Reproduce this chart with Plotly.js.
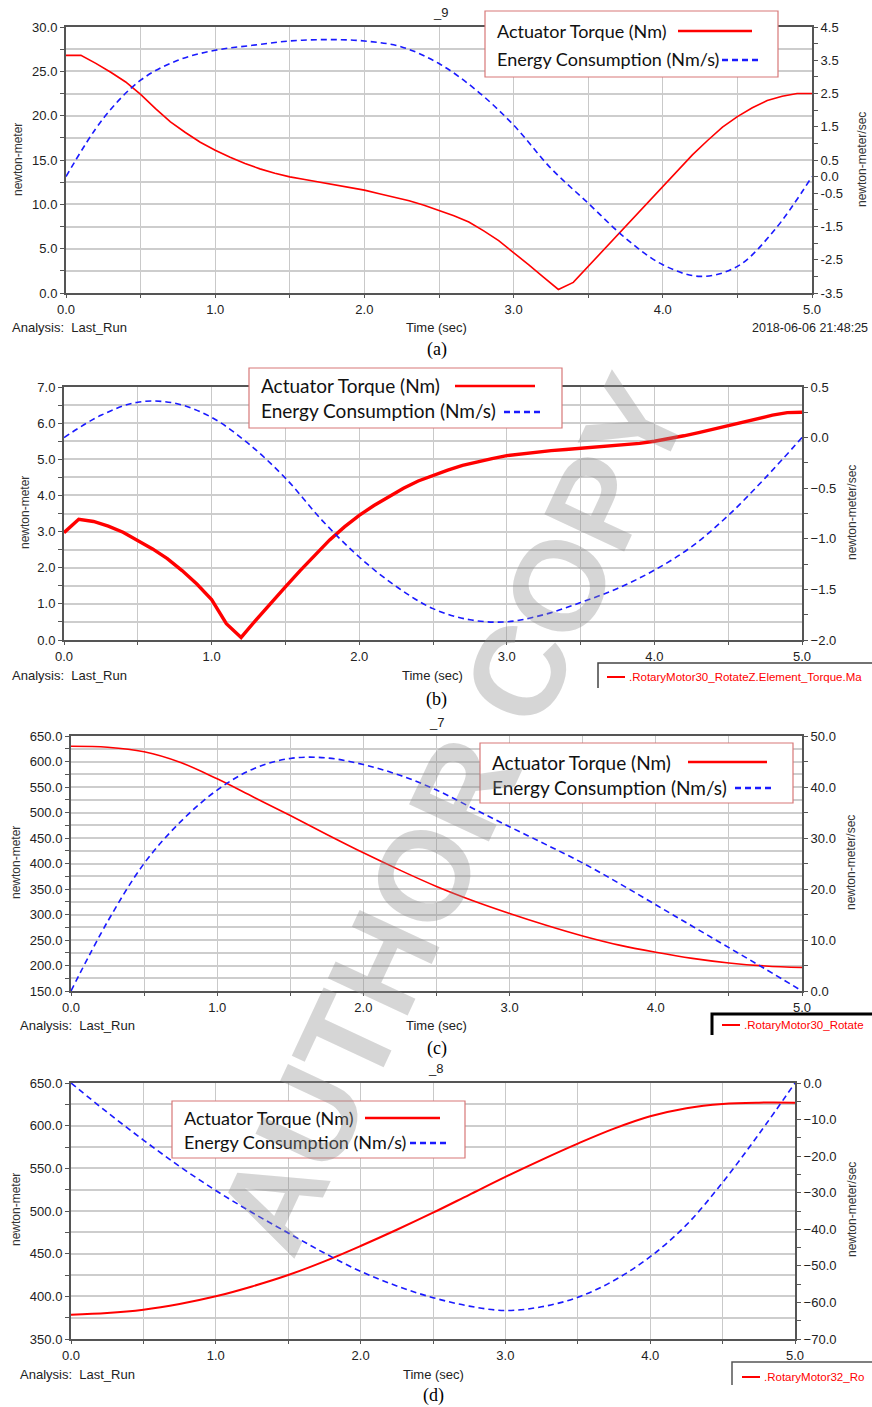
<!DOCTYPE html>
<html>
<head>
<meta charset="utf-8">
<script src="https://cdn.plot.ly/plotly-3.0.1.min.js"></script>
<style>html,body{margin:0;padding:0;background:#fff;}#chart{width:872px;height:1407px;}</style>
</head>
<body>
<div id="chart"></div>
<script>
// ---------- DATA ----------
const timeFine = [0,0.1,0.2,0.3,0.4,0.5,0.6,0.7,0.8,0.9,1.0,1.1,1.2,1.3,1.4,1.5,1.6,1.7,1.8,1.9,2.0,2.1,2.2,2.3,2.4,2.5,2.6,2.7,2.8,2.9,3.0,3.1,3.2,3.3,3.4,3.5,3.6,3.7,3.8,3.9,4.0,4.1,4.2,4.3,4.4,4.5,4.6,4.7,4.8,4.9,5.0];
const timeQ = [0,0.25,0.5,0.75,1.0,1.25,1.5,1.75,2.0,2.25,2.5,2.75,3.0,3.25,3.5,3.75,4.0,4.25,4.5,4.75,5.0];

const torqueA = [26.8,26.8,25.9,24.9,23.8,22.4,20.8,19.3,18.1,17.0,16.1,15.3,14.6,14.0,13.5,13.1,12.8,12.5,12.2,11.9,11.6,11.2,10.8,10.4,9.9,9.3,8.7,8.0,7.0,5.9,4.6,3.2,1.8,0.4,1.2,3.0,4.8,6.6,8.4,10.3,12.1,13.9,15.6,17.2,18.7,19.9,20.9,21.7,22.2,22.5,22.5];
const energyA = [0.0,1.75,2.9,3.5,3.8,3.95,4.08,4.12,4.08,3.9,3.4,2.6,1.55,0.25,-0.8,-1.85,-2.65,-3.0,-2.7,-1.6,0.0];

const torqueB = [2.97,3.34,3.28,3.15,2.98,2.76,2.52,2.25,1.92,1.55,1.12,0.45,0.07,0.55,1.02,1.47,1.92,2.36,2.77,3.13,3.45,3.72,3.97,4.2,4.4,4.56,4.7,4.83,4.93,5.02,5.1,5.15,5.2,5.24,5.27,5.3,5.33,5.36,5.4,5.44,5.5,5.57,5.65,5.74,5.84,5.94,6.04,6.13,6.22,6.29,6.3];
const energyB = [0.0,0.22,0.35,0.34,0.2,-0.06,-0.4,-0.82,-1.18,-1.47,-1.69,-1.8,-1.82,-1.75,-1.63,-1.49,-1.31,-1.08,-0.77,-0.4,0.0];

const torqueC = [630,628,619,598,566,530,494,457,421,387,355,327,302,279,258,240,226,214,205,199,196];
const energyC = [0,13.6,25.0,33.2,39.4,43.6,45.6,45.7,44.4,42.3,39.4,35.8,32.2,28.7,25.1,21.1,16.9,12.7,8.5,4.3,0];

const torqueD = [378.5,380.4,384.3,391,400,411.6,425,441,459,478,498,519,540,560,579,596.5,611,620.5,625.5,627,627];
const energyD = [0,-8.0,-15.6,-22.8,-29.4,-35.4,-41.0,-46.5,-51.5,-55.5,-58.7,-61.0,-62.2,-61.2,-58.6,-54.0,-47.5,-38.8,-27.2,-14.0,0];

const panelTitles = ["_9", "", "_7", "_8"];
const captions = ["(a)", "(b)", "(c)", "(d)"];
const legendNames = ["Actuator Torque (Nm)", "Energy Consumption (Nm/s)"];
const curveLabels = [".RotaryMotor30_RotateZ.Element_Torque.Ma", ".RotaryMotor30_Rotate", ".RotaryMotor32_Ro"];
const runStamp = "2018-06-06 21:48:25";
const rightTicksA = [4.5,4.0,3.5,3.0,2.5,2.0,1.5,1.0,0.5,0.0,-0.5,-1.0,-1.5,-2.0,-2.5,-3.0,-3.5];
const rightTickTextA = ["4.5","","3.5","","2.5","","1.5","","0.5","0.0","-0.5","","-1.5","","-2.5","","-3.5"];

// ---------- LAYOUT HELPERS ----------
const W = 872, H = 1407;
const px = v => v / W;
const py = v => 1 - v / H;

const geo = [
  {l:66, r:812, t:27,   b:293,  lr:[0,30],    ld:5,   lm:2.5,  rr:[-3.5,4.5], rd:0.5, rm:0.5,  tw:1.6, shape:"linear"},
  {l:64, r:802, t:387,  b:640,  lr:[0,7],     ld:1,   lm:0.5,  rr:[-2,0.5],   rd:0.5, rm:0.25, tw:3.4, shape:"linear"},
  {l:71, r:802, t:736,  b:991,  lr:[150,650], ld:50,  lm:25,   rr:[0,50],     rd:10,  rm:5,    tw:1.6, shape:"spline"},
  {l:71, r:795, t:1083, b:1339, lr:[350,650], ld:50,  lm:25,   rr:[-70,0],    rd:10,  rm:5,    tw:2.0, shape:"spline"}
];

const tickFont = {family:"Liberation Sans, Arial, sans-serif", size:13, color:"#222"};
const torques = [torqueA, torqueB, torqueC, torqueD];
const torqueX = [timeFine, timeFine, timeQ, timeQ];
const energies = [energyA, energyB, energyC, energyD];

const traces = [];
const layout = {
  width: W, height: H,
  margin: {l:0, r:0, t:0, b:0},
  paper_bgcolor: "#fff", plot_bgcolor: "#fff",
  showlegend: false,
  font: tickFont,
  annotations: [], shapes: []
};

geo.forEach((g, i) => {
  const n = i + 1;
  const xa = n === 1 ? "x" : "x" + n;
  const ya = n === 1 ? "y" : "y" + n;
  const yr = "y" + (n + 4);
  const xk = n === 1 ? "xaxis" : "xaxis" + n;
  const yk = n === 1 ? "yaxis" : "yaxis" + n;
  const yrk = "yaxis" + (n + 4);

  layout[xk] = {
    domain: [px(g.l), px(g.r)], anchor: ya, range: [0, 5],
    dtick: 1, tick0: 0, tickformat: ".1f",
    showline: true, mirror: true, linecolor: "#555", linewidth: 2,
    showgrid: true, gridcolor: "#c9c9c9", gridwidth: 1,
    ticks: "outside", ticklen: 3, tickcolor: "#555",
    minor: {dtick: 0.5, showgrid: true, gridcolor: "#c9c9c9", gridwidth: 1, ticks: "outside", ticklen: 3, tickcolor: "#555"},
    zeroline: false, tickfont: tickFont, fixedrange: true
  };
  layout[yk] = {
    domain: [py(g.b), py(g.t)], anchor: xa, range: g.lr,
    dtick: g.ld, tick0: 0, tickformat: ".1f",
    showline: true, linecolor: "#555", linewidth: 2,
    showgrid: true, gridcolor: "#cdcdcd", gridwidth: 2,
    ticks: "outside", ticklen: 4, tickcolor: "#555",
    minor: {dtick: g.lm, showgrid: true, gridcolor: "#cdcdcd", gridwidth: 2, ticks: "outside", ticklen: 4, tickcolor: "#555"},
    zeroline: false, tickfont: tickFont, fixedrange: true
  };
  const right = {
    overlaying: ya, anchor: xa, side: "right", range: g.rr,
    showline: true, linecolor: "#555", linewidth: 2,
    showgrid: false, zeroline: false,
    ticks: "outside", ticklen: 4, tickcolor: "#555",
    tickfont: tickFont, fixedrange: true
  };
  if (i === 0) {
    right.tickmode = "array"; right.tickvals = rightTicksA; right.ticktext = rightTickTextA;
  } else {
    right.dtick = g.rd; right.tick0 = 0; right.tickformat = ".1f";
    right.minor = {dtick: g.rm, ticks: "outside", ticklen: 4, tickcolor: "#555"};
  }
  layout[yrk] = right;

  const tl = {color: "#ff0000", width: g.tw, shape: g.shape};
  if (g.shape === "spline") tl.smoothing = 1;
  traces.push({
    type: "scatter", mode: "lines", x: torqueX[i], y: torques[i],
    xaxis: xa, yaxis: ya, name: legendNames[0], line: tl
  });
  traces.push({
    type: "scatter", mode: "lines", x: timeQ, y: energies[i],
    xaxis: xa, yaxis: yr, name: legendNames[1],
    line: {color: "#1a1aff", width: 1.6, dash: "6px,4px", shape: "spline", smoothing: 1}
  });
});

const ann = layout.annotations, shp = layout.shapes;
function txt(x, y, text, opts) {
  ann.push(Object.assign({
    xref: "paper", yref: "paper", x: px(x), y: py(y), text: text,
    showarrow: false, xanchor: "center", yanchor: "middle",
    font: {family: "Liberation Sans, Arial, sans-serif", size: 13, color: "#222"}
  }, opts || {}));
}
function line(x0, y0, x1, y1, color, width, dash) {
  shp.push({type: "line", xref: "paper", yref: "paper", x0: px(x0), y0: py(y0), x1: px(x1), y1: py(y1),
    line: {color: color, width: width, dash: dash || "solid"}, layer: "above"});
}

// panel titles
const titlePos = [[440,13],[437,366],[437,722],[435,1068]];
panelTitles.forEach((t, i) => { if (t) txt(titlePos[i][0], titlePos[i][1], t); });

// axis titles
const axTitleY = [[18,160,862,160],[25,513,852,513],[16,863,851,863],[16,1210,852,1210]];
axTitleY.forEach(a => {
  txt(a[0], a[1], "newton-meter", {textangle: -90, font:{family:"Liberation Sans, Arial, sans-serif", size:12, color:"#333"}});
  txt(a[2], a[3], "newton-meter/sec", {textangle: -90, font:{family:"Liberation Sans, Arial, sans-serif", size:12, color:"#333"}});
});

// bottom texts
const bottomY = [328, 675, 1025, 1374];
const analysisX = [10, 10, 18, 18];
const timeX = [437, 432, 437, 433];
bottomY.forEach((y, i) => {
  txt(analysisX[i], y, "Analysis:&nbsp;&nbsp;Last_Run", {xanchor: "left"});
  txt(timeX[i], y, "Time (sec)");
});
txt(870, 328, runStamp, {xanchor: "right", font:{family:"Liberation Sans, Arial, sans-serif", size:12.5, color:"#222"}});

// captions
const capPos = [[437,350],[437,700],[437,1048],[433,1395]];
captions.forEach((c, i) => txt(capPos[i][0], capPos[i][1], c, {font:{family:"Liberation Serif, Times New Roman, serif", size:18, color:"#000"}}));

// curve-name boxes at lower right
const redFont = {family:"Liberation Sans, Arial, sans-serif", size:11.5, color:"#ff0000"};
shp.push({type:"path", xref:"paper", yref:"paper", path:`M${px(598)},${py(688)} L${px(598)},${py(663)} L${px(872)},${py(663)}`, line:{color:"#444", width:1.5}, layer:"above"});
line(607, 677, 625, 677, "#ff0000", 2);
txt(627, 677, curveLabels[0], {xanchor:"left", font:redFont});
shp.push({type:"path", xref:"paper", yref:"paper", path:`M${px(712)},${py(1035)} L${px(712)},${py(1014)} L${px(872)},${py(1014)}`, line:{color:"#000", width:3}, layer:"above"});
line(722, 1025, 740, 1025, "#ff0000", 2);
txt(742, 1025, curveLabels[1], {xanchor:"left", font:redFont});
shp.push({type:"path", xref:"paper", yref:"paper", path:`M${px(732)},${py(1385)} L${px(732)},${py(1362)} L${px(872)},${py(1362)}`, line:{color:"#555", width:1.5}, layer:"above"});
line(742, 1377, 760, 1377, "#ff0000", 2);
txt(762, 1377, curveLabels[2], {xanchor:"left", font:redFont});

// legends (text left, sample right)
const legends = [
  {x0:485, y0:11,   x1:778, y1:77,   tx:495, l1:31,   l2:59,   r:[678,752], b:[722,760], fs:18},
  {x0:249, y0:368,  x1:562, y1:428,  tx:259, l1:386,  l2:411,  r:[455,535], b:[504,542], fs:19},
  {x0:480, y0:743,  x1:793, y1:803,  tx:490, l1:762,  l2:787,  r:[688,767], b:[735,773], fs:19},
  {x0:172, y0:1101, x1:465, y1:1158, tx:182, l1:1118, l2:1142, r:[365,440], b:[410,447], fs:18}
];
legends.forEach(L => {
  shp.push({type:"rect", xref:"paper", yref:"paper", x0:px(L.x0), x1:px(L.x1), y0:py(L.y1), y1:py(L.y0),
    fillcolor:"#ffffff", line:{color:"#d87878", width:1.2}, layer:"above"});
  txt(L.tx, L.l1, legendNames[0], {xanchor:"left", font:{family:"Lato, Noto Sans, sans-serif", size:L.fs, color:"#111"}});
  txt(L.tx, L.l2, legendNames[1], {xanchor:"left", font:{family:"Lato, Noto Sans, sans-serif", size:L.fs, color:"#111"}});
  line(L.r[0], L.l1, L.r[1], L.l1, "#ff0000", 2.5);
  line(L.b[0], L.l2 + 1, L.b[1], L.l2 + 1, "#1a1aff", 2.5, "6px,4px");
});

// watermark
txt(452, 814, "<b>AUTHOR COPY</b>", {textangle: -65, font:{family:"Liberation Sans, Arial, sans-serif", size:128, color:"rgba(140,140,140,0.36)"}});

Plotly.newPlot("chart", traces, layout, {staticPlot: true, displayModeBar: false});
</script>
</body>
</html>
